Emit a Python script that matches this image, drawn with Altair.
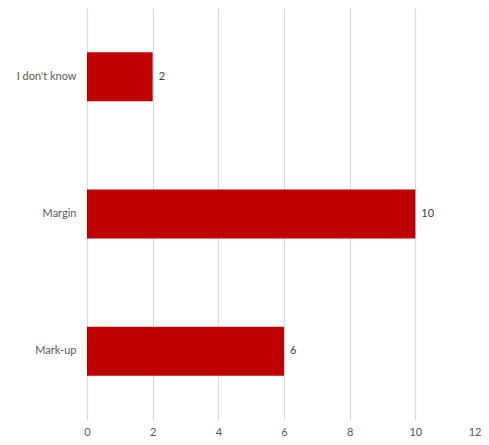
import altair as alt
import pandas as pd

categories = ["I don't know", "Margin", "Mark-up"]
values = [2, 10, 6]
x_ticks = [0, 2, 4, 6, 8, 10, 12]

df = pd.DataFrame({"category": categories, "value": values})

base = alt.Chart(df).encode(
    y=alt.Y(
        "category:N",
        sort=categories,
        title=None,
        scale=alt.Scale(paddingInner=0.643, paddingOuter=0.3215),
        axis=alt.Axis(
            domain=False, ticks=False, grid=False, labelPadding=11,
            labelFont="Lato", labelFontSize=11, labelColor="#595959",
        ),
    ),
    x=alt.X(
        "value:Q",
        title=None,
        scale=alt.Scale(domain=[0, 12], nice=False),
        axis=alt.Axis(
            values=x_ticks, domain=False, ticks=False, grid=True,
            gridColor="#d9d9d9", gridWidth=1.2, labelPadding=6,
            labelFlush=False,
            labelAlign=alt.expr("datum.value == 12 ? 'right' : 'center'"),
            labelFont="Lato", labelFontSize=11, labelColor="#595959",
        ),
    ),
)

bars = base.mark_bar(color="#C00000")
labels = base.mark_text(
    align="left", baseline="middle", dx=6, font="Lato", fontSize=11, color="#404040"
).encode(text="value:Q")

chart = (bars + labels).properties(
    width=394, height=412,
    autosize=alt.AutoSizeParams(type="none"),
    padding={"left": 79, "top": 0, "right": 0, "bottom": 25},
).configure_view(stroke=None)

chart.save("out.html", embed_options={"renderer": "svg", "actions": False})
